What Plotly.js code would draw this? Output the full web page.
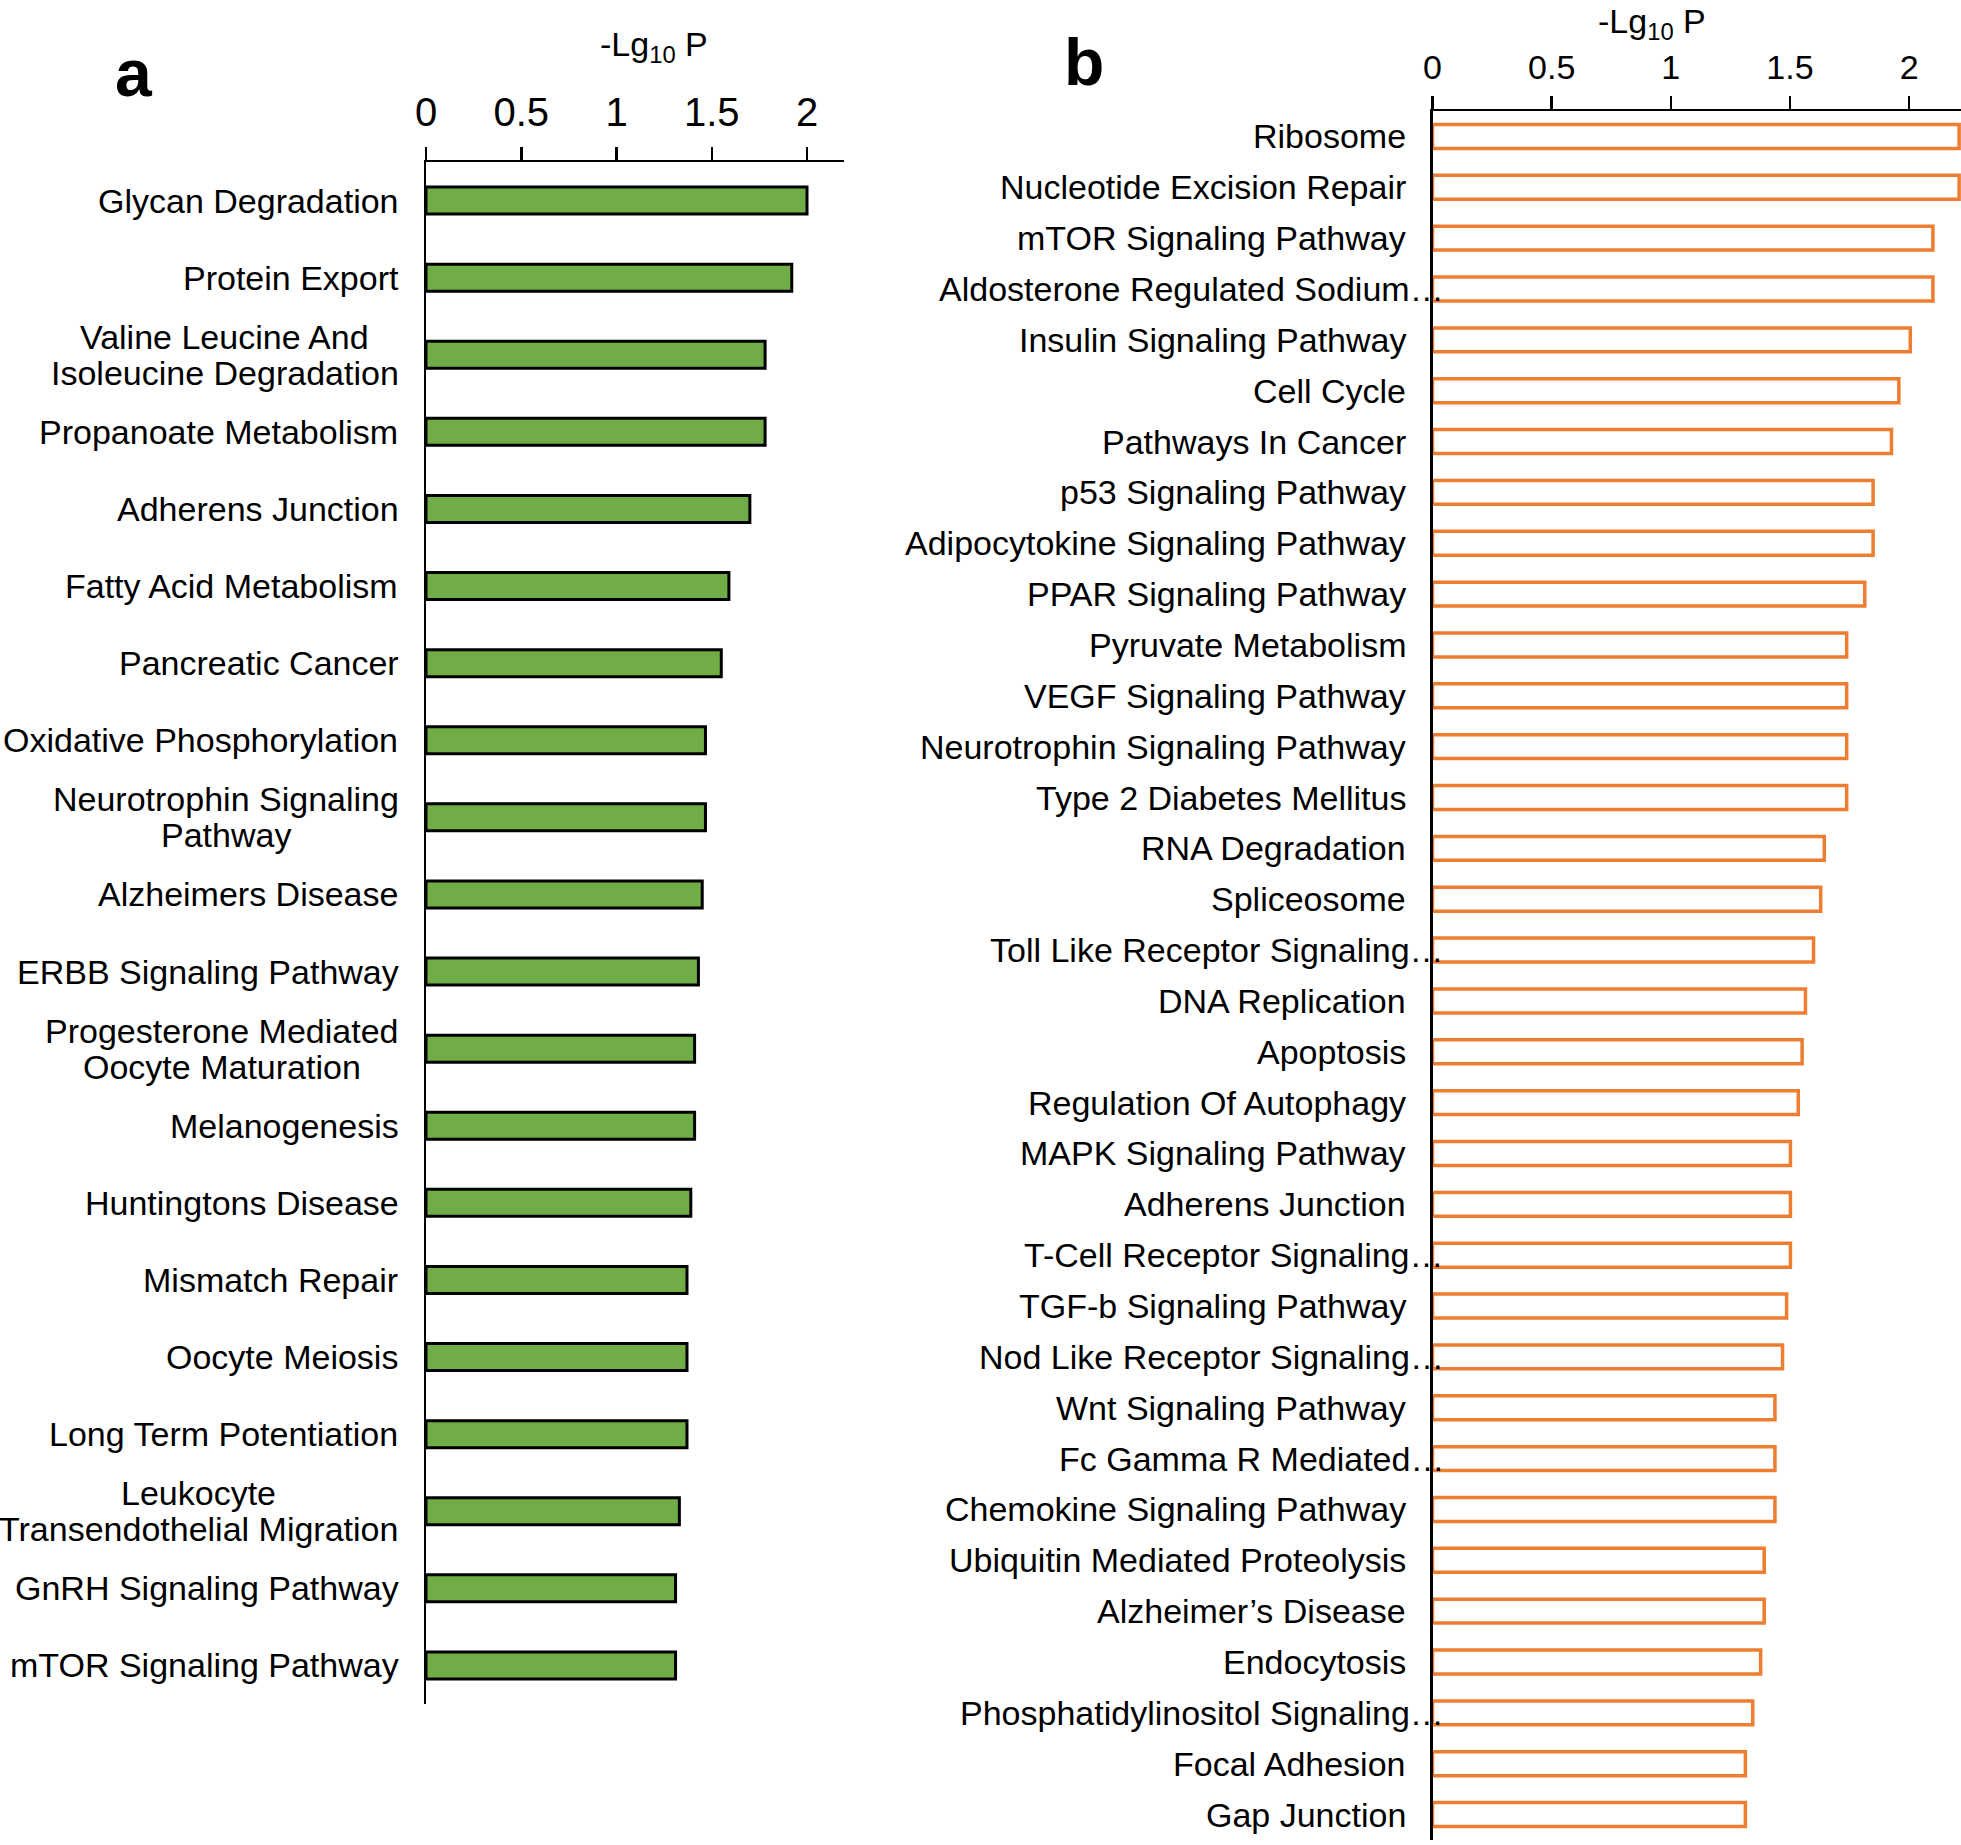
<!DOCTYPE html>
<html>
<head>
<meta charset="utf-8">
<script src="https://cdn.plot.ly/plotly-3.0.1.min.js"></script>
<style>
html,body{margin:0;padding:0;background:#fff;}
#chart{width:1961px;height:1845px;}
</style>
</head>
<body>
<div id="chart"></div>
<script>
// ---------- Data ----------
const categoriesA = [
  'Glycan Degradation',
  'Protein Export',
  'Valine Leucine And<br>Isoleucine Degradation',
  'Propanoate Metabolism',
  'Adherens Junction',
  'Fatty Acid Metabolism',
  'Pancreatic Cancer',
  'Oxidative Phosphorylation',
  'Neurotrophin Signaling<br>Pathway',
  'Alzheimers Disease',
  'ERBB Signaling Pathway',
  'Progesterone Mediated<br>Oocyte Maturation',
  'Melanogenesis',
  'Huntingtons Disease',
  'Mismatch Repair',
  'Oocyte Meiosis',
  'Long Term Potentiation',
  'Leukocyte<br>Transendothelial Migration',
  'GnRH Signaling Pathway',
  'mTOR Signaling Pathway'
];
const valuesA = [2.00, 1.92, 1.78, 1.78, 1.70, 1.59, 1.55, 1.467, 1.467, 1.45,
                 1.43, 1.41, 1.41, 1.39, 1.37, 1.37, 1.37, 1.33, 1.31, 1.31];

const categoriesB = [
  'Ribosome',
  'Nucleotide Excision Repair',
  'mTOR Signaling Pathway',
  'Aldosterone Regulated Sodium…',
  'Insulin Signaling Pathway',
  'Cell Cycle',
  'Pathways In Cancer',
  'p53 Signaling Pathway',
  'Adipocytokine Signaling Pathway',
  'PPAR Signaling Pathway',
  'Pyruvate Metabolism',
  'VEGF Signaling Pathway',
  'Neurotrophin Signaling Pathway',
  'Type 2 Diabetes Mellitus',
  'RNA Degradation',
  'Spliceosome',
  'Toll Like Receptor Signaling…',
  'DNA Replication',
  'Apoptosis',
  'Regulation Of Autophagy',
  'MAPK Signaling Pathway',
  'Adherens Junction',
  'T-Cell Receptor Signaling…',
  'TGF-b Signaling Pathway',
  'Nod Like Receptor Signaling…',
  'Wnt Signaling Pathway',
  'Fc Gamma R Mediated…',
  'Chemokine Signaling Pathway',
  'Ubiquitin Mediated Proteolysis',
  'Alzheimer’s Disease',
  'Endocytosis',
  'Phosphatidylinositol Signaling…',
  'Focal Adhesion',
  'Gap Junction'
];
const valuesB = [2.21, 2.21, 2.10, 2.10, 2.005, 1.957, 1.926, 1.849, 1.849, 1.814,
                 1.738, 1.738, 1.738, 1.738, 1.644, 1.629, 1.599, 1.565, 1.551, 1.535,
                 1.502, 1.502, 1.502, 1.486, 1.469, 1.437, 1.437, 1.437, 1.392, 1.392,
                 1.377, 1.344, 1.313, 1.313];

const tickValues = [0, 0.5, 1, 1.5, 2];
const tickLabels = ['0', '0.5', '1', '1.5', '2'];
const axisTitle = '-Lg<sub>10</sub> P';
const panelLabels = ['a', 'b'];

// ---------- Helpers ----------
const W = 1961, H = 1845;
const FONT = '"Liberation Sans", Arial, sans-serif';
const LABEL_SIZE = 34;
const cvs = document.createElement('canvas');
const ctx = cvs.getContext('2d');
function textWidth(s, size) {
  ctx.font = size + 'px "Liberation Sans", Arial, sans-serif';
  return ctx.measureText(s).width;
}
const px = v => v / W;
const py = v => 1 - v / H;

// ---------- Traces ----------
const traceA = {
  type: 'bar', orientation: 'h',
  x: valuesA, y: categoriesA,
  xaxis: 'x', yaxis: 'y',
  width: 0.35,
  marker: {color: '#70AD47', line: {color: '#000000', width: 3}},
  hoverinfo: 'x+y'
};
const traceB = {
  type: 'bar', orientation: 'h',
  x: valuesB, y: categoriesB,
  xaxis: 'x2', yaxis: 'y2',
  width: 0.47,
  marker: {color: '#FFFFFF', line: {color: '#ED7D31', width: 3.5}},
  hoverinfo: 'x+y'
};

// ---------- Annotations ----------
const annotations = [];
const labelFont = {family: FONT, size: LABEL_SIZE, color: '#000'};

categoriesA.forEach(c => {
  const lines = c.split('<br>');
  const w = Math.max(...lines.map(l => textWidth(l, LABEL_SIZE)));
  lines.forEach((l, j) => {
    annotations.push({
      xref: 'x', yref: 'y', x: 0, y: c, text: l, showarrow: false,
      xanchor: 'center', yanchor: 'middle',
      xshift: -27.5 - w / 2,
      yshift: ((lines.length - 1) / 2 - j) * 36,
      font: labelFont
    });
  });
});

const ell = textWidth('…', LABEL_SIZE);
categoriesB.forEach(c => {
  const trunc = c.endsWith('…');
  annotations.push({
    xref: 'x2', yref: 'y2', x: 0, y: c, text: c, showarrow: false,
    xanchor: 'right', yanchor: 'middle',
    xshift: -25 + (trunc ? ell + 4 : 0),
    font: labelFont
  });
});

annotations.push({xref: 'paper', yref: 'paper', x: px(654), y: py(46), text: axisTitle,
  showarrow: false, xanchor: 'center', yanchor: 'middle', font: {family: FONT, size: 34, color: '#000'}});
annotations.push({xref: 'paper', yref: 'paper', x: px(1652), y: 1, text: axisTitle,
  showarrow: false, xanchor: 'center', yanchor: 'top', font: {family: FONT, size: 34, color: '#000'}});
annotations.push({xref: 'paper', yref: 'paper', x: px(134), y: py(73), text: '<b>' + panelLabels[0] + '</b>',
  showarrow: false, xanchor: 'center', yanchor: 'middle', font: {family: FONT, size: 66, color: '#000'}});
annotations.push({xref: 'paper', yref: 'paper', x: px(1084), y: py(62), text: '<b>' + panelLabels[1] + '</b>',
  showarrow: false, xanchor: 'center', yanchor: 'middle', font: {family: FONT, size: 66, color: '#000'}});

// ---------- Axes ----------
function xAxis(domain, range, anchor, size, standoff) {
  return {
    domain: domain, range: range, anchor: anchor, side: 'top',
    showline: true, linecolor: '#000', linewidth: 2.5,
    ticks: 'outside', ticklen: 13, tickwidth: 2.5, tickcolor: '#000',
    tickvals: tickValues, ticktext: tickLabels,
    tickfont: {family: FONT, size: size, color: '#000'},
    ticklabelstandoff: standoff,
    showgrid: false, zeroline: false, fixedrange: true
  };
}
function yAxis(domain, n, anchor) {
  return {
    domain: domain, type: 'category', range: [n - 0.5, -0.5], anchor: anchor,
    showline: true, linecolor: '#000', linewidth: 2.5,
    ticks: '', showticklabels: false, showgrid: false, zeroline: false, fixedrange: true
  };
}

const x0B = 1432.5;
const layout = {
  width: W, height: H,
  margin: {l: 0, r: 0, t: 0, b: 0, pad: 0},
  paper_bgcolor: '#fff', plot_bgcolor: 'rgba(0,0,0,0)',
  showlegend: false,
  font: {family: FONT, color: '#000'},
  xaxis: xAxis([px(426), px(844)], [0, (844 - 426) / 190.5], 'y', 40, 5),
  yaxis: yAxis([py(1704), py(162)], categoriesA.length, 'x'),
  xaxis2: xAxis([px(x0B), 1], [0, (W - x0B) / 238.3], 'y2', 34, 3),
  yaxis2: yAxis([py(1840), py(111)], categoriesB.length, 'x2'),
  annotations: annotations
};

Plotly.newPlot('chart', [traceA, traceB], layout, {displayModeBar: false, staticPlot: true});
</script>
</body>
</html>
